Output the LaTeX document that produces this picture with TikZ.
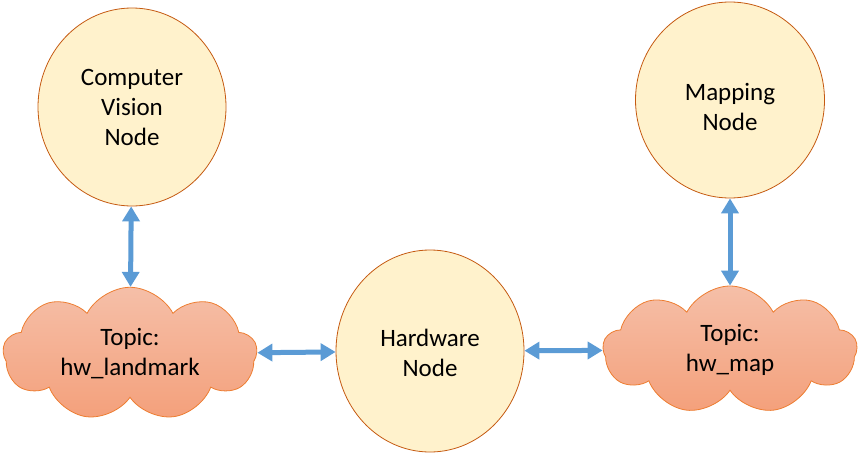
\documentclass[tikz,border=0pt]{standalone}
\usepackage{fontspec}
\setmainfont{Carlito}
\usetikzlibrary{shapes.geometric,shapes.symbols,arrows.meta}
\definecolor{nodefill}{HTML}{FFF2CC}
\definecolor{nodeline}{HTML}{C55A11}
\definecolor{cloudline}{HTML}{ED7D31}
\definecolor{cloudtop}{HTML}{F5BFA8}
\definecolor{cloudbot}{HTML}{F4A07B}
\definecolor{arrowblue}{HTML}{5B9BD5}
\tikzset{
  rosnode/.style={ellipse, draw=nodeline, line width=0.8pt, fill=nodefill, inner sep=0pt,
    align=center, font=\fontsize{25}{30}\selectfont},
  topic/.style={cloud, cloud puffs=9, cloud puff arc=125, aspect=2, draw=cloudline, line width=0.8pt,
    top color=cloudtop, bottom color=cloudbot, inner sep=0pt, align=center,
    minimum width=254pt, minimum height=128pt, font=\fontsize{25}{30}\selectfont},
  link/.style={arrowblue, line width=5pt,
    {Triangle[width=17pt,length=15pt]}-{Triangle[width=17pt,length=15pt]}}
}
\begin{document}
\begin{tikzpicture}[x=1pt,y=-1pt]
\useasboundingbox (0,0) rectangle (866,463);
\node[rosnode, minimum width=188pt, minimum height=198pt] (cv) at (132,107) {Computer\\Vision\\Node};
\node[rosnode, minimum width=189pt, minimum height=196pt] (map) at (730,100) {\rule{0pt}{31pt}Mapping\\Node};
\node[rosnode, minimum width=188pt, minimum height=202pt] (hw) at (430,351) {\rule{0pt}{21pt}Hardware\\Node};
\node[topic] (lc) at (130,354) {Topic:\\hw\_landmark};
\node[topic] (rc) at (730,350) {Topic:\\hw\_map};
\draw[link] (cv) -- (lc);
\draw[link] (map) -- (rc);
\draw[link] (lc) -- (hw);
\draw[link] (hw) -- (rc);
\end{tikzpicture}
\end{document}
